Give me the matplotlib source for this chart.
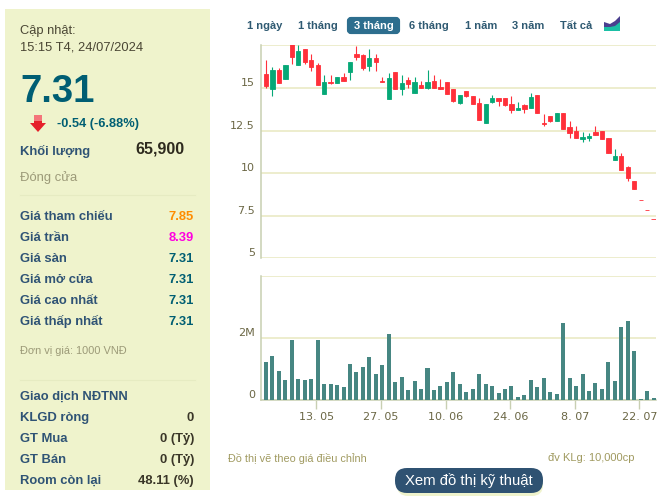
import numpy as np
import matplotlib
matplotlib.use('Agg')
import matplotlib.pyplot as plt
from matplotlib.patches import Rectangle, FancyBboxPatch, Polygon

W, H = 671, 498
SANS = 'Liberation Sans'

opens = [15.83, 14.96, 16.07, 15.54, 17.60, 16.36, 17.29, 16.65, 16.36, 14.67,
         15.37, 15.31, 15.66, 15.95, 17.00, 16.94, 16.30, 16.76, 15.43, 14.32,
         15.95, 14.96, 15.48, 14.73, 15.19, 15.02, 15.43, 15.08, 15.37, 14.96,
         14.09, 14.84, 14.50, 14.09, 12.93, 14.15, 14.38, 14.38, 14.03, 13.68,
         13.97, 13.80, 14.61, 12.93, 13.33, 13.04, 13.51, 12.69, 12.46, 12.00,
         12.05, 12.40, 12.46, 12.08, 10.74, 11.03, 10.33, 9.56, 8.43, 7.85, 7.31]
highs = [16.65, 16.24, 16.18, 16.36, 17.70, 17.50, 17.29, 17.00, 16.47, 15.78,
         15.78, 15.66, 15.89, 16.53, 17.46, 17.00, 17.29, 17.00, 15.66, 15.89,
         15.95, 15.78, 15.66, 15.66, 15.43, 16.07, 15.78, 15.54, 15.37, 14.96,
         14.61, 14.84, 14.50, 14.38, 14.03, 14.61, 14.38, 14.38, 14.55, 14.15,
         14.03, 14.73, 14.61, 13.45, 13.33, 13.51, 13.51, 13.04, 12.75, 12.40,
         12.34, 12.75, 12.46, 12.08, 11.44, 11.20, 10.44, 9.56, 8.43, 7.85, 7.31]
lows = [15.02, 14.50, 15.31, 15.54, 16.41, 16.36, 16.41, 16.01, 15.19, 14.67,
        15.25, 15.31, 15.43, 15.48, 16.65, 16.07, 16.01, 16.01, 15.37, 14.32,
        14.96, 14.61, 15.02, 14.73, 15.02, 14.96, 15.02, 14.96, 14.67, 14.15,
        14.03, 14.44, 14.03, 13.10, 12.93, 14.09, 13.91, 13.91, 13.51, 13.68,
        13.51, 13.80, 13.51, 12.75, 12.98, 13.04, 12.58, 12.05, 12.05, 11.82,
        11.88, 12.23, 12.00, 11.20, 10.74, 10.20, 9.56, 9.04, 8.43, 7.85, 7.31]
closes = [15.14, 16.07, 15.31, 16.36, 16.82, 17.17, 16.53, 16.24, 15.19, 15.37,
          15.31, 15.66, 15.43, 16.53, 16.82, 16.18, 16.76, 16.53, 15.37, 15.60,
          14.96, 15.31, 15.25, 15.37, 15.02, 15.37, 15.02, 14.96, 14.67, 14.21,
          14.61, 14.50, 14.03, 13.10, 14.03, 14.38, 14.26, 13.97, 13.68, 13.80,
          13.74, 14.44, 13.51, 12.89, 13.04, 13.51, 12.58, 12.34, 12.05, 12.11,
          12.17, 12.23, 12.00, 11.20, 11.03, 10.20, 9.74, 9.04, 8.43, 7.85, 7.31]
volumes = [1.23, 1.43, 0.94, 0.65, 1.95, 0.68, 0.65, 0.68, 1.95, 0.52,
           0.52, 0.49, 0.42, 1.17, 0.91, 1.07, 1.39, 0.84, 1.14, 2.14,
           0.58, 0.75, 0.32, 0.62, 0.36, 1.04, 0.32, 0.45, 0.58, 0.91,
           0.52, 0.26, 0.36, 0.84, 0.52, 0.45, 0.23, 0.36, 0.45, 0.10,
           0.16, 0.65, 0.42, 0.71, 0.26, 0.19, 2.50, 0.71, 0.45, 0.84,
           0.29, 0.55, 0.36, 1.23, 0.62, 2.34, 2.56, 1.59, 0.03, 0.29, 0.05]

date_ticks = [8, 18, 28, 38, 48, 58]
date_labels = ['13. 05', '27. 05', '10. 06', '24. 06', '8. 07', '22. 07']
price_ticks = [5, 7.5, 10, 12.5, 15, 17.5]
price_labels = ['5', '7.5', '10', '12.5', '15', '']
vol_ticks = [0, 2, 4]
vol_labels = ['0', '2M', '']

tabs = ['1 ngày', '1 tháng', '3 tháng', '6 tháng', '1 năm', '3 năm', 'Tất cả']
tab_x = [265, 318, 373.5, 428.5, 481, 528.5, 576.5]

price_rows = ['Giá tham chiếu', 'Giá trần', 'Giá sàn', 'Giá mở cửa', 'Giá cao nhất', 'Giá thấp nhất']
price_vals = ['7.85', '8.39', '7.31', '7.31', '7.31', '7.31']
price_cols = ['#ff8c00', '#ff00e0', '#005e73', '#005e73', '#005e73', '#005e73']
price_y = [216.5, 237.5, 258.5, 279.5, 300.5, 321.5]

foreign_rows = ['KLGD ròng', 'GT Mua', 'GT Bán', 'Room còn lại']
foreign_vals = ['0', '0 (Tỷ)', '0 (Tỷ)', '48.11 (%)']
foreign_y = [417.5, 438.5, 459.5, 480.5]

RED = '#ff303a'
GREEN = '#06a877'
VOLCOL = '#468682'
GRID = '#e8e8c0'
AXIS = '#c8cfb2'
NAVY = '#2f5375'
TEAL = '#005e73'
TICK = '#6b6745'

plt.rcParams['font.family'] = SANS
fig = plt.figure(figsize=(W / 100, H / 100), dpi=100)
fig.patch.set_facecolor('white')


def px_axes(x0, y0, x1, y1):
    return fig.add_axes([x0 / W, 1 - y1 / H, (x1 - x0) / W, (y1 - y0) / H])


# page furniture, in pixel coordinates
page = fig.add_axes([0, 0, 1, 1])
page.set_xlim(0, W)
page.set_ylim(H, 0)
page.axis('off')


def label(x, y, s, size=9.4, color=NAVY, bold=True, ha='left', **kw):
    page.text(x, y, s, fontsize=size, color=color, ha=ha, va='center',
              fontweight='bold' if bold else 'normal', **kw)


page.add_patch(Rectangle((5, 9), 205, 481, fc='#eff3cc', ec='none'))
label(20, 31, 'Cập nhật:', 9.3, '#4a4634', False)
label(20, 47, '15:15 T4, 24/07/2024', 9.3, '#4a4634', False)
label(20, 91.5, '7.31', 27.6, TEAL)
page.add_patch(Polygon([(34, 115), (42, 115), (42, 123), (46, 123), (38, 132), (30, 123), (34, 123)],
                       fc='#e5202a', ec='none'))
page.add_patch(Rectangle((34, 115), 8, 6, fc='#f4757a', ec='none'))
label(57, 123.5, '-0.54 (-6.88%)', 9.2, TEAL)
label(20, 151, 'Khối lượng', 9.4, NAVY)
label(185, 149, '65,900', 11.5, '#2e2a1e', ha='right')
label(20, 178, 'Đóng cửa', 9.4, '#9c9a78', False)
page.plot([20, 195], [195, 195], color='#e6ebc2', lw=0.8)

for name, val, col, y in zip(price_rows, price_vals, price_cols, price_y):
    label(20, y, name, 9.4, NAVY)
    label(194, y, val, 9.4, col, ha='right')

label(20, 351, 'Đơn vị giá: 1000 VNĐ', 7.9, '#9c9a78', False)
page.plot([20, 195], [380, 380], color='#e6ebc2', lw=0.8)
label(20, 396.5, 'Giao dịch NĐTNN', 9.4, NAVY)
for name, val, y in zip(foreign_rows, foreign_vals, foreign_y):
    label(20, y, name, 9.4, NAVY)
    label(194, y, val, 9.4, '#3a3628', ha='right')

# range tabs
page.add_patch(FancyBboxPatch((349, 19), 49, 13, boxstyle='round,pad=0,rounding_size=2',
                              mutation_aspect=1, fc='#2d6e8e', ec='#2d6e8e', lw=3))
for s, x in zip(tabs, tab_x):
    label(x, 25.5, s, 8, 'white' if s == '3 tháng' else '#2f5a72', ha='center')
page.add_patch(Polygon([(604, 31), (604, 22), (610, 24), (615, 21), (620, 16), (620, 31)], fc='#4a3f8f', ec='none'))
page.add_patch(Polygon([(604, 31), (604, 27), (610, 27), (615, 26), (620, 22), (620, 31)], fc='#1bbfa5', ec='none'))

# footer
label(228, 458, 'Đồ thị vẽ theo giá điều chỉnh', 7.85, '#a09a60', False)
label(548, 458, 'đv KLg: 10,000cp', 8, '#a09a60', False)
page.add_patch(FancyBboxPatch((397, 472), 146, 24, boxstyle='round,pad=0,rounding_size=11',
                              fc='#eff3cc', ec='none'))
page.add_patch(FancyBboxPatch((395, 468), 148, 25, boxstyle='round,pad=0,rounding_size=12',
                              fc='#2f5272', ec='none'))
label(469, 480.5, 'Xem đồ thị kỹ thuật', 10.7, 'white', False, ha='center')

# price panel
x_left = (261.3 - 266) / 6.46
x_right = (656 - 266) / 6.46
ax = px_axes(261.3, 45.3, 656, 258.3)
ax.patch.set_alpha(0)
ax.set_xlim(x_left, x_right)
ax.set_ylim(5, 17.5)
idx = np.arange(len(opens))
o, hi, lo, c = map(np.array, (opens, highs, lows, closes))
colors = [GREEN if c[i] > o[i] else RED for i in idx]
ax.vlines(idx, lo, hi, colors=colors, lw=0.8, zorder=3)
ax.bar(idx, np.abs(c - o), bottom=np.minimum(o, c), width=0.66, color=colors,
       edgecolor=colors, linewidth=0.6, zorder=3)
ax.set_yticks(price_ticks)
ax.set_yticklabels(price_labels, fontfamily='DejaVu Sans', fontsize=8, color=TICK, va='bottom')
ax.tick_params(axis='y', length=0, pad=4.5)
ax.set_xticks([])
ax.grid(axis='y', color=GRID, lw=1.1, zorder=1)
ax.set_axisbelow(True)
for side in ('top', 'right', 'bottom'):
    ax.spines[side].set_visible(False)
ax.spines['left'].set_color(AXIS)
ax.spines['left'].set_linewidth(1.1)

# volume panel
ax2 = px_axes(261.3, 276, 656, 400)
ax2.patch.set_alpha(0)
ax2.set_xlim(x_left, x_right)
ax2.set_ylim(0, 4)
ax2.bar(idx, volumes, width=0.62, color=VOLCOL, zorder=3)
ax2.set_yticks(vol_ticks)
ax2.set_yticklabels(vol_labels, fontfamily='DejaVu Sans', fontsize=8, color=TICK, va='bottom')
ax2.tick_params(axis='y', length=0, pad=4.5)
ax2.set_xticks(np.array(date_ticks) - 0.2)
ax2.set_xticklabels(date_labels, fontfamily='DejaVu Sans', fontsize=8, color=TICK)
ax2.tick_params(axis='x', length=6.5, width=1, color=AXIS, pad=1.8)
ax2.grid(axis='y', color=GRID, lw=1.1, zorder=1)
ax2.set_axisbelow(True)
for side in ('top', 'right'):
    ax2.spines[side].set_visible(False)
for side in ('left', 'bottom'):
    ax2.spines[side].set_color(AXIS)
    ax2.spines[side].set_linewidth(1.1)

fig.savefig('out.png', dpi=100)
